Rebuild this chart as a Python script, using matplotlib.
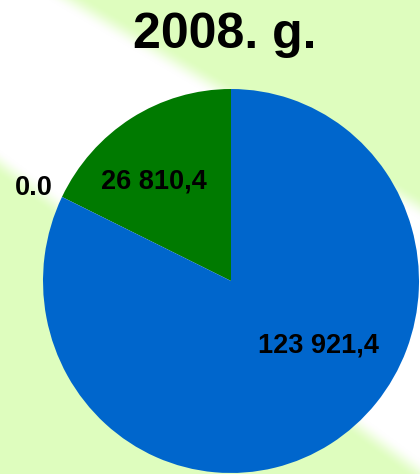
import numpy as np
import matplotlib
matplotlib.use("Agg")
import matplotlib.pyplot as plt

# ---- data ----
title = "2008. g."
labels = ["26 810,4", "0.0", "123 921,4"]
values = [26810.4, 0.0, 123921.4]
colors = ["#007A00", "#5B9BD5", "#0066CC"]

# label anchor positions (axis units, pie radius = 1) -- layout only
label_xy = [(-0.41, 0.484), (-1.048, 0.448), (0.463, -0.37)]

W, H, DPI = 420, 474, 100
fig = plt.figure(figsize=(W / DPI, H / DPI), dpi=DPI)

# ---- background: light green with a soft white diagonal band ----
bg = fig.add_axes([0, 0, 1, 1])
bg.set_axis_off()
yy, xx = np.mgrid[0:H, 0:W].astype(float)

def signed_dist(p1, p2):
    (x1, y1), (x2, y2) = p1, p2
    nx, ny = -(y2 - y1), (x2 - x1)
    n = np.hypot(nx, ny)
    return ((xx - x1) * nx + (yy - y1) * ny) / n

d_up = signed_dist((70, 0), (420, 207))    # >0 below the upper line
d_lo = signed_dist((0, 163), (420, 472))   # <0 above the lower line
soft = 22.0
a = np.clip(d_up / soft + 0.5, 0, 1) * np.clip(-d_lo / soft + 0.5, 0, 1)
a = a * a * (3 - 2 * a)
green = np.array([222, 253, 190]) / 255.0
white = np.array([1.0, 1.0, 1.0])
img = green[None, None, :] * (1 - a[..., None]) + white[None, None, :] * a[..., None]
bg.imshow(img, extent=(0, W, H, 0), aspect="auto", interpolation="bilinear")
bg.set_xlim(0, W)
bg.set_ylim(H, 0)

# ---- pie ----
cx, cy, rx, ry = 231, 281, 188, 192
ax = fig.add_axes([(cx - rx) / W, (H - cy - ry) / H, 2 * rx / W, 2 * ry / H])
wedges, _ = ax.pie(values, colors=colors, startangle=90, counterclock=True,
                   radius=1.0, wedgeprops=dict(linewidth=0))
ax.set_xlim(-1, 1)
ax.set_ylim(-1, 1)
ax.set_aspect("auto")
ax.set_axis_off()

for lab, (lx, ly) in zip(labels, label_xy):
    ax.text(lx, ly, lab, ha="center", va="baseline", fontsize=19.5,
            fontweight="bold", family=["Liberation Sans", "DejaVu Sans"],
            color="black", clip_on=False)

fig.text(225 / W, 1 - 48 / H, title, ha="center", va="baseline",
         fontsize=36, fontweight="bold",
         family=["Liberation Sans", "DejaVu Sans"], color="black")

fig.savefig("out.png", dpi=DPI)
